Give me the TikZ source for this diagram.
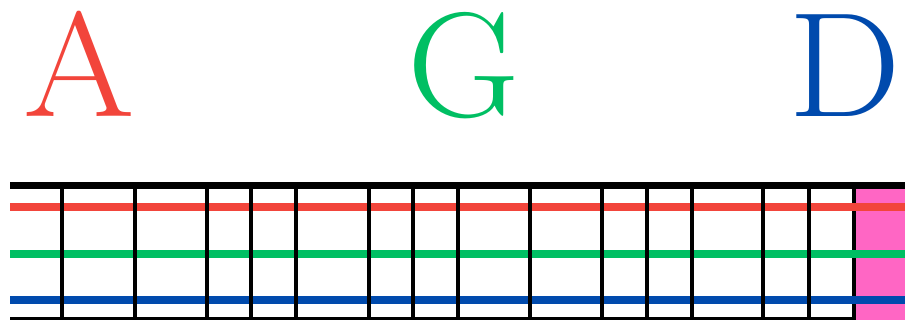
\documentclass[tikz,border=0pt]{standalone}
\usepackage{tikz}
\usetikzlibrary{positioning}

\definecolor{redA}{HTML}{F2453B}
\definecolor{greenG}{HTML}{00BF63}
\definecolor{blueD}{HTML}{004AAD}
\definecolor{pinkbox}{HTML}{FF66C4}

\begin{document}
\begin{tikzpicture}[
    x=1pt, y=1pt,
    letter/.style={
        inner sep=0pt,
        anchor=base,
        font=\fontsize{149pt}{149pt}\selectfont
    },
    rail/.style={line width=8pt},
    bar/.style={line width=4.5pt, black}
]
\useasboundingbox (0,0) rectangle (905,320);

% letters
\node[letter, text=redA] (lA) at (79.5,203) {\scalebox{1.08}[1]{A}};
\node[letter, text=greenG] (lG) at (464,203) {\scalebox{1.04}[1]{G}};
\node[letter, text=blueD] (lD) at (845,203) {\scalebox{1.07}[1]{D}};

% grid
\fill[pinkbox] (856,0) rectangle (905,131);
\draw[bar] (854,0) -- (854,134);
\draw[rail, redA] (10,112.5) -- (905,112.5);
\draw[rail, greenG] (10,66) -- (905,66);
\draw[rail, blueD] (10,19.5) -- (905,19.5);
\foreach \x in {62,135,207,251,296,369,413,458,530,602,647,692,763,809}
    \draw[bar] (\x,1) -- (\x,134);
\draw[line width=7pt] (10,134) -- (905,134);
\draw[line width=2.5pt] (10,1.25) -- (856,1.25);

\end{tikzpicture}
\end{document}
